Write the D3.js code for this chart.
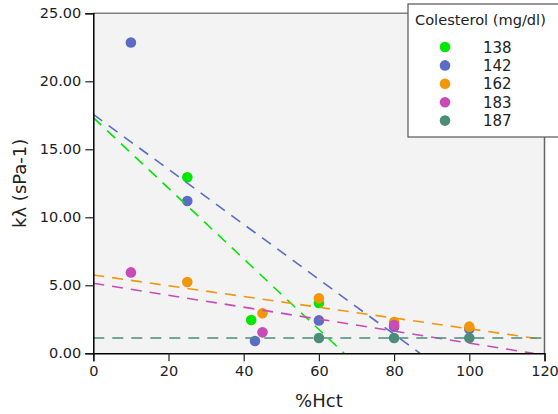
<!DOCTYPE html>
<html><head><meta charset="utf-8">
<script src="https://cdn.jsdelivr.net/npm/d3@7"></script>
<style>body{margin:0;background:#fff;}svg{display:block;font-family:"DejaVu Sans",sans-serif;}</style>
</head><body>
<svg id="c" width="558" height="414"></svg>
<script>
const seriesNames = ["138", "142", "162", "183", "187"];
const seriesColors = ["#00e800", "#5b6cc6", "#f2960a", "#c94bb5", "#4b8d78"];
const xVals138 = [25, 42, 60];
const yVals138 = [12.95, 2.45, 3.7];
const xVals142 = [10, 25, 43, 60, 80, 100];
const yVals142 = [22.85, 11.2, 0.9, 2.42, 1.95, 1.78];
const xVals162 = [25, 45, 60, 80, 100];
const yVals162 = [5.24, 2.94, 4.04, 2.3, 1.96];
const xVals183 = [10, 45, 80];
const yVals183 = [5.95, 1.54, 2.08];
const xVals187 = [60, 80, 100];
const yVals187 = [1.12, 1.12, 1.12];
// trend lines (intercept, slope)
const trendIntercepts = [17.33, 17.57, 5.76, 5.15, 1.12];
const trendSlopes = [-0.2597, -0.2022, -0.0396, -0.0440, 0];
const xTicks = [0, 20, 40, 60, 80, 100, 120];
const yTicks = [0, 5, 10, 15, 20, 25];

const xs = [xVals138, xVals142, xVals162, xVals183, xVals187];
const ys = [yVals138, yVals142, yVals162, yVals183, yVals187];

const svg = d3.select("#c");
const L = 93.3, R = 544.5, T = 13.3, B = 353.3;
const x = d3.scaleLinear().domain([0, 120]).range([L, R]);
const y = d3.scaleLinear().domain([0, 25]).range([B, T]);

svg.append("rect").attr("x", L).attr("y", T).attr("width", R - L).attr("height", B - T).attr("fill", "#f3f3f3");
svg.append("defs").append("clipPath").attr("id", "pc").append("rect")
  .attr("x", L).attr("y", T).attr("width", R - L).attr("height", B - T);

// frame top/right
svg.append("line").attr("x1", L).attr("x2", R).attr("y1", T).attr("y2", T).attr("stroke", "#808080").attr("stroke-width", 1.5);
svg.append("line").attr("x1", R).attr("x2", R).attr("y1", T).attr("y2", B).attr("stroke", "#666").attr("stroke-width", 1.5);

// points
const pts = svg.append("g");
seriesNames.forEach((n, i) => {
  pts.selectAll(null).data(xs[i].map((v, j) => [v, ys[i][j]])).enter().append("circle")
    .attr("cx", d => x(d[0])).attr("cy", d => y(d[1])).attr("r", 5.3).attr("fill", seriesColors[i]);
});

// trend lines
const lines = svg.append("g").attr("clip-path", "url(#pc)");
seriesNames.forEach((n, i) => {
  const a = trendIntercepts[i], b = trendSlopes[i];
  let x1 = 120;
  if (b < 0) x1 = Math.min(120, -a / b);
  lines.append("line")
    .attr("x1", x(0)).attr("y1", y(a)).attr("x2", x(x1)).attr("y2", y(a + b * x1))
    .attr("stroke", seriesColors[i]).attr("stroke-width", 1.6).attr("stroke-dasharray", "11,8");
});

// axes
const xAxis = svg.append("g").attr("transform", `translate(0,${B})`)
  .call(d3.axisBottom(x).tickValues(xTicks).tickFormat(d3.format("d")).tickSize(8).tickPadding(4));
const yAxis = svg.append("g").attr("transform", `translate(${L},0)`)
  .call(d3.axisLeft(y).tickValues(yTicks).tickFormat(d3.format(".2f")).tickSize(8).tickPadding(4));
[xAxis, yAxis].forEach(g => {
  g.select(".domain").attr("stroke", "#000").attr("stroke-width", 1.5);
  g.selectAll(".tick line").attr("stroke", "#222").attr("stroke-width", 1.2);
  g.selectAll("text").attr("font-size", 14.5).attr("fill", "#222").attr("font-family", "DejaVu Sans");
});

svg.append("text").attr("x", (L + R) / 2).attr("y", 407).attr("text-anchor", "middle")
  .attr("font-size", 18).attr("fill", "#222").text("%Hct");
svg.append("text").attr("transform", `translate(26,${(T + B) / 2}) rotate(-90)`).attr("text-anchor", "middle")
  .attr("font-size", 18).attr("fill", "#222").text("kλ (sPa-1)");

// legend
const lg = svg.append("g");
lg.append("rect").attr("x", 408).attr("y", 4).attr("width", 170).attr("height", 133)
  .attr("fill", "#fff").attr("stroke", "#555").attr("stroke-width", 1.2);
lg.append("text").attr("x", 415).attr("y", 25).attr("font-size", 14.6).attr("fill", "#222").text("Colesterol (mg/dl)");
seriesNames.forEach((n, i) => {
  const cy = 47 + i * 18.4;
  lg.append("circle").attr("cx", 445).attr("cy", cy).attr("r", 5.3).attr("fill", seriesColors[i]);
  lg.append("text").attr("x", 483).attr("y", cy + 5.5).attr("font-size", 15).attr("fill", "#222").text(n);
});
</script>
</body></html>
